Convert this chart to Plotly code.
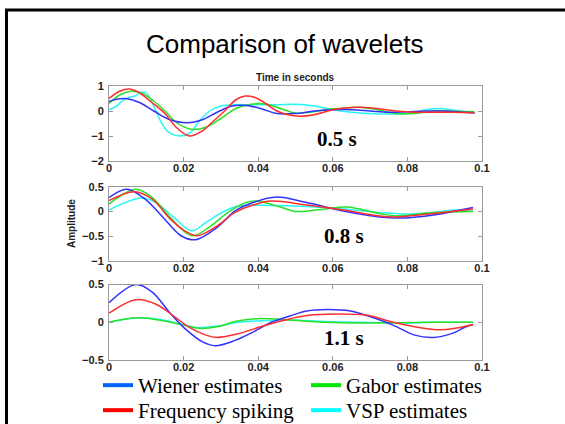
import plotly.graph_objects as go

W, H = 565, 424

# ---- wavelet estimates, time in milliseconds, amplitude ----
# 0.5 s
t1_wiener = [0, 2, 4.5, 8, 12, 16, 21, 25, 29, 33, 37, 41, 45, 50, 55, 60, 65, 70, 75, 80, 85, 90, 95, 98]
a1_wiener = [0.38, 0.47, 0.5, 0.35, 0.0, -0.33, -0.47, -0.35, -0.05, 0.2, 0.22, 0.08, -0.1, -0.1, 0.0, 0.05, 0.05, 0.0, -0.05, -0.03, 0.0, 0.0, -0.05, -0.07]
t1_freq = [0, 3, 5.5, 8, 11, 15, 18, 21.5, 25, 28, 31, 34, 36.5, 39, 42, 45, 48, 51, 55, 60, 65, 68, 72, 77, 82, 87, 92, 98]
a1_freq = [0.5, 0.8, 0.88, 0.75, 0.4, -0.1, -0.65, -1.0, -0.8, -0.4, 0.0, 0.45, 0.6, 0.55, 0.3, 0.0, -0.15, -0.21, -0.15, 0.05, 0.14, 0.15, 0.1, 0.0, -0.05, -0.05, -0.05, -0.07]
t1_gabor = [0, 3, 6, 9, 12, 15, 18, 22, 26, 30, 34, 38, 42, 46, 50, 54, 58, 63, 67, 72, 77, 82, 87, 92, 98]
a1_gabor = [0.3, 0.65, 0.79, 0.7, 0.4, 0.0, -0.45, -0.73, -0.65, -0.3, 0.1, 0.27, 0.28, 0.1, -0.08, -0.05, 0.05, 0.12, 0.15, 0.05, -0.1, -0.1, 0.0, 0.0, -0.03]
t1_vsp = [0, 2, 4, 5.5, 7, 8.5, 10, 12, 14, 16, 19, 21.5, 24, 27, 30, 35, 40, 45, 50, 55, 60, 65, 70, 75, 80, 85, 88, 92, 96, 98]
a1_vsp = [0.05, 0.2, 0.45, 0.55, 0.6, 0.75, 0.72, 0.2, -0.45, -0.85, -1.0, -0.9, -0.45, 0.0, 0.2, 0.25, 0.25, 0.25, 0.27, 0.2, 0.05, -0.05, -0.1, -0.12, -0.1, 0.05, 0.1, 0.05, -0.05, -0.08]

# 0.8 s
t2_wiener = [0, 4.8, 9.7, 14.5, 19.3, 23.2, 29, 33.8, 38.6, 45, 53, 62.8, 72.5, 79, 87, 92.8, 97.6]
a2_wiener = [0.28, 0.45, 0.25, -0.12, -0.49, -0.57, -0.32, 0.01, 0.18, 0.29, 0.18, 0.01, -0.11, -0.13, -0.07, 0.01, 0.08]
t2_freq = [0, 6.8, 11.6, 16.4, 20.3, 23.7, 29, 33.8, 38.6, 43.5, 53, 62.8, 72.5, 77, 87, 97.6]
a2_freq = [0.22, 0.4, 0.25, -0.15, -0.39, -0.49, -0.29, -0.02, 0.13, 0.21, 0.13, 0.03, -0.09, -0.11, -0.04, 0.05]
t2_gabor = [0, 7.2, 11.6, 16.4, 22.2, 27, 31.9, 36.7, 39.6, 46.4, 50, 58, 63.8, 72.5, 77, 87, 97.6]
a2_gabor = [0.15, 0.45, 0.28, -0.12, -0.49, -0.31, -0.02, 0.18, 0.21, 0.08, 0.0, 0.05, 0.09, -0.04, -0.09, -0.02, 0.0]
t2_vsp = [0, 8.7, 12.6, 17.4, 22.2, 26, 31, 34.8, 43.5, 53, 62.8, 72.5, 79, 87, 92.8, 97.6]
a2_vsp = [0.03, 0.27, 0.18, -0.12, -0.39, -0.22, 0.01, 0.11, 0.12, 0.1, 0.05, -0.02, -0.05, -0.02, 0.03, 0.0]

# 1.1 s
t3_wiener = [0, 7.2, 11.6, 16.4, 20.3, 25.1, 28.5, 33.8, 38.6, 43.5, 48.3, 53, 58.5, 64.7, 71.5, 76.3, 82, 87, 91.8, 95.7, 97.6]
a3_wiener = [0.26, 0.5, 0.4, 0.12, -0.08, -0.26, -0.31, -0.24, -0.13, 0.0, 0.08, 0.15, 0.17, 0.15, 0.05, -0.04, -0.17, -0.2, -0.15, -0.06, -0.03]
t3_freq = [0, 7.2, 12.6, 17.4, 21.3, 26, 29, 34.8, 40.6, 46.4, 53, 60.9, 69.6, 75.4, 82, 88, 92.8, 97.6]
a3_freq = [0.12, 0.3, 0.24, 0.08, -0.06, -0.17, -0.2, -0.15, -0.06, 0.02, 0.09, 0.11, 0.09, 0.01, -0.06, -0.1, -0.08, -0.03]
t3_gabor = [0, 7.7, 14.5, 20.3, 24, 29, 33.8, 40.6, 48.3, 58, 67.6, 77, 87, 97.6]
a3_gabor = [0.0, 0.06, 0.02, -0.04, -0.08, -0.06, 0.01, 0.05, 0.03, 0.0, -0.01, -0.005, 0.0, 0.0]
t3_vsp = [0, 7.7, 14.5, 20.3, 23, 29, 34.8, 40.6, 48, 58, 67.6, 77, 87, 97.6]
a3_vsp = [0.0, 0.06, 0.03, -0.04, -0.07, -0.05, 0.0, 0.02, 0.03, 0.01, 0.0, -0.01, 0.0, 0.0]

series_names = ["Wiener estimates", "Gabor estimates", "Frequency spiking", "VSP estimates"]
line_colors = ["rgb(50,50,255)", "rgb(40,225,40)", "rgb(255,45,45)", "rgb(40,245,245)"]
legend_colors = ["rgb(0,100,255)", "rgb(0,230,0)", "rgb(255,0,0)", "rgb(0,255,255)"]

panels = [
    ([t1_wiener, t1_gabor, t1_freq, t1_vsp], [a1_wiener, a1_gabor, a1_freq, a1_vsp]),
    ([t2_wiener, t2_gabor, t2_freq, t2_vsp], [a2_wiener, a2_gabor, a2_freq, a2_vsp]),
    ([t3_wiener, t3_gabor, t3_freq, t3_vsp], [a3_wiener, a3_gabor, a3_freq, a3_vsp]),
]
panel_labels = ["0.5 s", "0.8 s", "1.1 s"]
y_ranges = [[-2, 1], [-1, 0.5], [-0.5, 0.5]]
y_dticks = [1, 0.5, 0.5]

# axis boxes in pixels (top, bottom)
x_px = (109, 482)
y_px = [(86, 161), (186.7, 261), (284.6, 360)]

fig = go.Figure()

# draw order: green and cyan under blue/red
draw_order = [3, 1, 0, 2]
for p, (ts, amps) in enumerate(panels):
    sfx = "" if p == 0 else str(p + 1)
    for k in draw_order:
        fig.add_trace(go.Scatter(
            x=[v / 1000 for v in ts[k]], y=amps[k],
            mode="lines", line=dict(color=line_colors[k], width=1.5, shape="spline", smoothing=1.0),
            xaxis="x" + sfx, yaxis="y" + sfx, showlegend=False, hoverinfo="skip",
        ))

# legend entries (two rows of two)
for k, lg in [(0, "legend"), (1, "legend"), (2, "legend2"), (3, "legend2")]:
    fig.add_trace(go.Scatter(
        x=[None], y=[None], mode="lines", name=series_names[k],
        line=dict(color=legend_colors[k], width=4), legend=lg,
    ))

tickfont = dict(family="Liberation Sans", size=11, color="#222", weight="bold")
axis_line = "#9a9a9a"

layout = dict(
    width=W, height=H, margin=dict(l=0, r=0, t=0, b=0, autoexpand=False),
    paper_bgcolor="white", plot_bgcolor="white",
    showlegend=True,
)
for p in range(3):
    sfx = "" if p == 0 else str(p + 1)
    top, bot = y_px[p]
    layout["xaxis" + sfx] = dict(
        domain=[x_px[0] / W, x_px[1] / W], range=[0, 0.1], anchor="y" + sfx,
        tickmode="array", tickvals=[0, 0.02, 0.04, 0.06, 0.08, 0.1],
        ticktext=["0", "0.02", "0.04", "0.06", "0.08", "0.1"],
        ticks="inside", ticklen=4, tickcolor=axis_line, showline=True, linecolor=axis_line,
        linewidth=1, mirror="ticks", showgrid=False, zeroline=False, tickfont=tickfont,
        ticklabelstandoff=-3, automargin=False,
    )
    layout["yaxis" + sfx] = dict(
        domain=[1 - bot / H, 1 - top / H], range=y_ranges[p], dtick=y_dticks[p], anchor="x" + sfx,
        ticks="inside", ticklen=4, tickcolor=axis_line, showline=True, linecolor=axis_line,
        linewidth=1, mirror="ticks", showgrid=False, zeroline=False, tickfont=tickfont,
        ticklabelstandoff=2, automargin=False,
    )

legend_font = dict(family="Liberation Serif", size=21, color="black")
layout["legend"] = dict(
    orientation="h", x=98 / W, xanchor="left", y=1 - 385.5 / H, yanchor="middle",
    font=legend_font, entrywidth=163,
    bgcolor="rgba(0,0,0,0)", borderwidth=0, itemclick=False,
)
layout["legend2"] = dict(
    orientation="h", x=98 / W, xanchor="left", y=1 - 410.5 / H, yanchor="middle",
    font=legend_font, entrywidth=163,
    bgcolor="rgba(0,0,0,0)", borderwidth=0, itemclick=False,
)

annotations = [
    dict(text="Comparison of wavelets", x=284 / W, y=1 - 44 / H, xref="paper", yref="paper",
         xanchor="center", yanchor="middle", showarrow=False,
         font=dict(family="Liberation Sans", size=26, color="black")),
    dict(text="Time in seconds", x=(x_px[0] + x_px[1]) / 2 / W, y=1 - 77 / H, xref="paper", yref="paper",
         xanchor="center", yanchor="middle", showarrow=False,
         font=dict(family="Liberation Sans", size=10, color="#222", weight="bold")),
    dict(text="Amplitude", x=71 / W, y=1 - 224 / H, xref="paper", yref="paper", textangle=-90,
         xanchor="center", yanchor="middle", showarrow=False,
         font=dict(family="Liberation Sans", size=10, color="#222", weight="bold")),
]
label_pos = [(0.061, -1.1), (0.063, -0.5), (0.063, -0.21)]
for p in range(3):
    sfx = "" if p == 0 else str(p + 1)
    annotations.append(dict(
        text=panel_labels[p], x=label_pos[p][0], y=label_pos[p][1], xref="x" + sfx, yref="y" + sfx,
        xanchor="center", yanchor="middle", showarrow=False,
        font=dict(family="Liberation Serif", size=21, color="black", weight="bold"),
    ))
layout["annotations"] = annotations

# slide frame: left and top edges
layout["shapes"] = [
    dict(type="line", xref="paper", yref="paper", x0=6.5 / W, x1=6.5 / W, y0=0, y1=1 - 10 / H,
         line=dict(color="black", width=3)),
    dict(type="line", xref="paper", yref="paper", x0=5 / W, x1=1, y0=1 - 10 / H, y1=1 - 10 / H,
         line=dict(color="black", width=3)),
]

fig.update_layout(**layout)
fig.write_html("out.html")
